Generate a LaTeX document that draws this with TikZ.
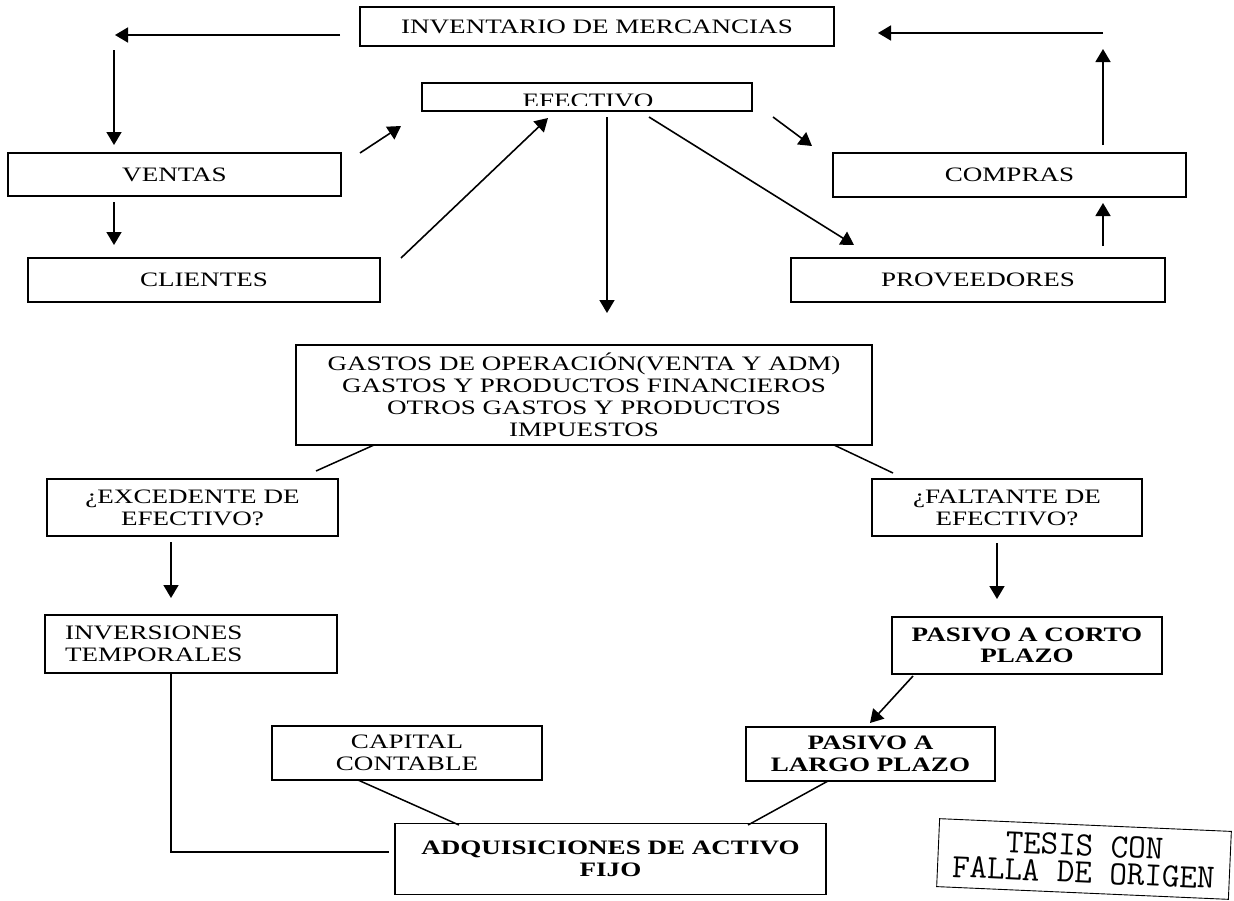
\documentclass[tikz,border=0pt]{standalone}
\usepackage{fontspec}
\setmainfont{Liberation Serif}[FakeStretch=1.32]
\usetikzlibrary{arrows.meta}
\begin{document}
\begin{tikzpicture}[x=1pt,y=-1pt,
  box/.style={draw, line width=1.6pt, inner sep=0pt, align=center,
    font=\fontsize{20.5}{22}\selectfont},
  boldbox/.style={box, font=\fontsize{20.5}{21.5}\selectfont\bfseries},
  arr/.style={line width=1.6pt, -{Triangle[length=13pt,width=15pt]}},
  ln/.style={line width=1.5pt}]
\useasboundingbox[fill=white] (0,0) rectangle (1234,900);

% boxes
\node[box, minimum width=474pt, minimum height=39pt] (inv) at (597,26.5) {INVENTARIO DE MERCANCIAS};
\node[box, minimum width=330pt, minimum height=28pt] (efe) at (587,97) {};
\begin{scope}
  \clip (422,83) rectangle (752,105.5);
  \node[inner sep=0pt, anchor=base, font=\fontsize{20.5}{22}\selectfont] (efetxt) at (588,107.5) {EFECTIVO};
\end{scope}
\node[box, minimum width=333pt, minimum height=43pt] (ven) at (174.5,174.5) {VENTAS};
\node[box, minimum width=352pt, minimum height=44pt] (cli) at (204,280) {CLIENTES};
\node[box, minimum width=353pt, minimum height=44pt] (com) at (1009.5,175) {COMPRAS};
\node[box, minimum width=374pt, minimum height=44pt] (pro) at (978,280) {PROVEEDORES};
\node[box, minimum width=576pt, minimum height=100pt] (gas) at (584,395)
  {GASTOS DE OPERACIÓN(VENTA Y ADM)\\GASTOS Y PRODUCTOS FINANCIEROS\\OTROS GASTOS Y PRODUCTOS\\IMPUESTOS};
\node[box, minimum width=291pt, minimum height=57pt] (exc) at (192.5,507.5) {¿EXCEDENTE DE\\EFECTIVO?};
\node[box, minimum width=270pt, minimum height=57pt] (fal) at (1007,507.5) {¿FALTANTE DE\\EFECTIVO?};
\node[box, minimum width=292pt, minimum height=58pt, text width=252pt, align=left] (invt) at (191,644) {INVERSIONES\\TEMPORALES};
\node[boldbox, minimum width=270pt, minimum height=57pt] (pc) at (1027,645.5) {PASIVO A CORTO\\PLAZO};
\node[box, minimum width=270pt, minimum height=54pt] (cap) at (407,753) {CAPITAL\\CONTABLE};
\node[boldbox, minimum width=249pt, minimum height=54pt] (pl) at (870.5,754) {PASIVO A\\LARGO PLAZO};
\node[boldbox, minimum width=431pt, minimum height=71pt] (adq) at (610.5,859) {ADQUISICIONES DE ACTIVO\\FIJO};

% stamp
\node[draw, line width=0.9pt, minimum width=292pt, minimum height=68pt, rotate=-2.5, inner sep=0pt,
  align=center, font=\ttfamily\fontsize{34}{27}\selectfont] (stamp) at (1084,859) {TESIS CON\\FALLA DE ORIGEN};

% connector end points
\coordinate (a1s) at (340,35);   \coordinate (a1e) at (115,35);
\coordinate (a2s) at (114,50);   \coordinate (a2e) at (114,145);
\coordinate (a3s) at (114,202);  \coordinate (a3e) at (114,245);
\coordinate (a4s) at (360,153);  \coordinate (a4e) at (401,126);
\coordinate (a5s) at (401,258);  \coordinate (a5e) at (548,118);
\coordinate (a6s) at (607,117);  \coordinate (a6e) at (607,313);
\coordinate (a7s) at (649,117);  \coordinate (a7e) at (854,245);
\coordinate (a8s) at (773,117);  \coordinate (a8e) at (812,146);
\coordinate (a9s) at (1103,145); \coordinate (a9e) at (1103,49);
\coordinate (a10s) at (1103,33); \coordinate (a10e) at (878,33);
\coordinate (a11s) at (1103,246);\coordinate (a11e) at (1103,203);
\coordinate (l1s) at (374,445);  \coordinate (l1e) at (316,471);
\coordinate (l2s) at (834,445);  \coordinate (l2e) at (893,473);
\coordinate (a12s) at (171,542); \coordinate (a12e) at (171,598);
\coordinate (a13s) at (997,543); \coordinate (a13e) at (997,599);
\coordinate (a14s) at (913,676); \coordinate (a14e) at (870,723);
\coordinate (l3s) at (358,780);  \coordinate (l3e) at (459,825);
\coordinate (l4s) at (828,781);  \coordinate (l4e) at (748,825);
\coordinate (l5s) at (171,673);  \coordinate (l5m) at (171,852); \coordinate (l5e) at (389,852);

% connectors
\draw[arr] (a1s) -- (a1e);
\draw[arr] (a2s) -- (a2e);
\draw[arr] (a3s) -- (a3e);
\draw[arr] (a4s) -- (a4e);
\draw[arr] (a5s) -- (a5e);
\draw[arr] (a6s) -- (a6e);
\draw[arr] (a7s) -- (a7e);
\draw[arr] (a8s) -- (a8e);
\draw[arr] (a9s) -- (a9e);
\draw[arr] (a10s) -- (a10e);
\draw[arr] (a11s) -- (a11e);
\draw[ln] (l1s) -- (l1e);
\draw[ln] (l2s) -- (l2e);
\draw[arr] (a12s) -- (a12e);
\draw[arr] (a13s) -- (a13e);
\draw[arr] (a14s) -- (a14e);
\draw[ln] (l3s) -- (l3e);
\draw[ln] (l4s) -- (l4e);
\draw[ln] (l5s) -- (l5m) -- (l5e);
\end{tikzpicture}
\end{document}
